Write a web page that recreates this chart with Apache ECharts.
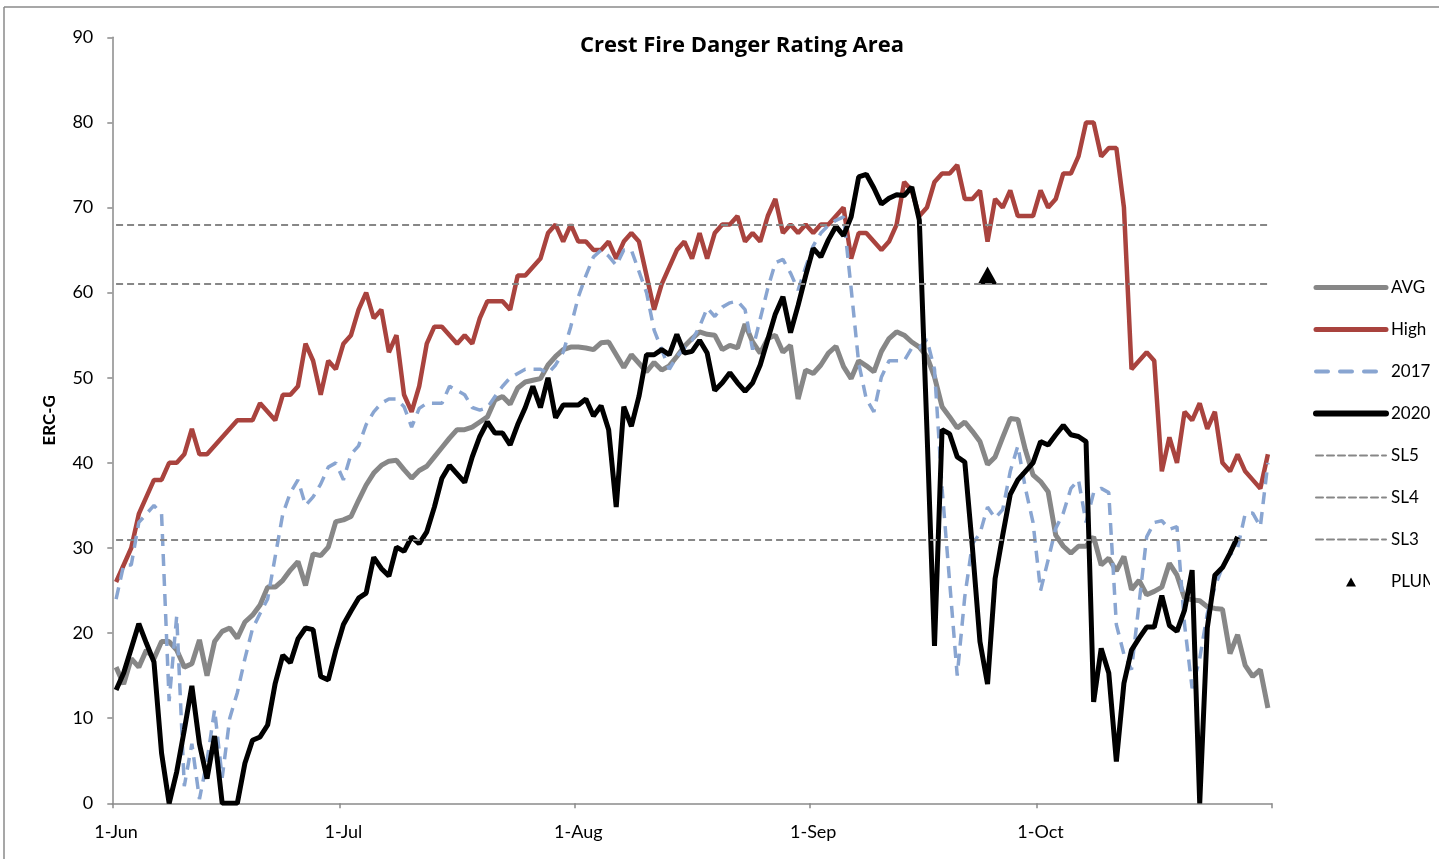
<!DOCTYPE html>
<html><head><meta charset="utf-8">
<script src="https://cdn.jsdelivr.net/npm/echarts@6/dist/echarts.min.js"></script>
<style>html,body{margin:0;padding:0;background:#fff}#chart{width:1439px;height:859px}</style>
</head><body><div id="chart"></div>
<script>
// ---- categories (daily, 1-Jun .. 31-Oct) ----
const monthNames = ['Jun', 'Jul', 'Aug', 'Sep', 'Oct'];
const monthDays = [30, 31, 31, 30, 31];
const categories = [];
monthNames.forEach((m, i) => { for (let d = 1; d <= monthDays[i]; d++) categories.push(d + '-' + m); });

// ---- series values (ERC-G) ----
const avgValues = [16,14,17,16,18,17,19,19,18,16,16.4,19.2,15,19,20.2,20.6,19.4,21.3,22.1,23.3,25.4,25.4,26.2,27.4,28.4,25.6,29.3,29.1,30.1,33.1,
33.3,33.7,35.6,37.4,38.8,39.7,40.2,40.3,39.2,38.2,39.1,39.6,40.7,41.8,42.9,43.9,43.9,44.2,44.8,45.4,47.4,47.8,46.9,48.8,49.5,49.7,49.9,51.5,52.5,53.3,53.6,
53.6,53.5,53.3,54.1,54.2,52.7,51.2,52.7,51.7,50.7,51.8,50.9,51.4,52.5,53.7,54.6,55.4,55.1,55,53.3,53.8,53.5,56.3,54.2,52.9,54.6,55,53,53.8,47.5,50.9,
50.5,51.5,52.9,53.7,51.3,49.9,52,51.4,50.7,53.1,54.6,55.4,55,54.2,53.6,52.5,50.1,46.6,45.4,44.1,44.8,43.7,42.5,39.8,40.7,43,45.2,45.1,41.5,38.6,
37.8,36.6,31.5,30.2,29.4,30.2,30.2,31.3,28,28.8,27.3,29,25.1,26.2,24.5,24.9,25.4,28.2,26.8,24.1,23.9,23.8,23.1,22.9,22.8,17.6,19.8,16.2,14.9,15.7,11.2];

const highValues = [26,28,30,34,36,38,38,40,40,41,44,41,41,42,43,44,45,45,45,47,46,45,48,48,49,54,52,48,52,51,
54,55,58,60,57,58,53,55,48,46,49,54,56,56,55,54,55,54,57,59,59,59,58,62,62,63,64,67,68,66,68,
66,66,65,65,66,64,66,67,66,62,58,61,63,65,66,64,67,64,67,68,68,69,66,67,66,69,71,67,68,67,68,
67,68,68,69,70,64,67,67,66,65,66,68,73,72,69,70,73,74,74,75,71,71,72,66,71,70,72,69,69,69,
72,70,71,74,74,76,80,80,76,77,77,70,51,52,53,52,39,43,40,46,45,47,44,46,40,39,41,39,38,37,41];

const y2017Values = [24,28,28,33,34,35,34,12,22,2,7,0.5,5,11,3,10,13,17,20.5,22.3,24,
29,34,36.5,38,35,36,37.5,39.5,40,38,
41,42,44.5,46,47,47.5,47.5,46.6,44.2,46.4,47,47,47,49,48.5,48,46.5,46.2,46.5,47.8,49,50,50.5,51,51,51,50.5,51.5,53,56,
59.5,62,64.2,65,64.3,63.2,65,65,62.5,60,55.6,53.3,51,52.5,53.5,54.4,56,58.2,57.2,58.3,58.8,59,58,53.3,56.9,60.5,63.5,63.9,62.3,60.3,63,
65.5,67,67.9,68.5,68.9,60.5,51.7,47.5,46,50.1,52,52,52,53.5,53.5,54.5,51,37,26,15,24.3,30.5,31.7,34.8,33.5,34.5,39,42,37,33,
25,28.6,32.3,34.1,37,38,33,36.5,37,36.5,21,17.5,15.7,23.5,31.3,33,33.2,32.2,32.5,21,13.5,17,22.3,25.4,27.8,29.2,30,34,34.1,32.5,40];

const y2020Values = [13.3,15.3,18.2,21.1,18.8,16.6,5.9,0,3.7,8.6,13.8,7,2.9,7.9,0,0,0,4.7,7.4,7.8,9.2,14.1,17.4,16.5,19.3,20.6,20.4,14.9,14.5,18,
21,22.6,24.1,24.7,28.9,27.6,26.7,30.1,29.6,31.3,30.5,31.9,34.8,38.2,39.7,38.7,37.7,40.7,43.1,44.8,43.5,43.5,42.1,44.5,46.5,49,46.5,50,45.3,46.8,46.8,
46.8,47.5,45.5,46.7,43.9,34.8,46.6,44.3,47.8,52.7,52.7,53.3,52.7,55.1,52.9,53.1,54.4,52.9,48.5,49.4,50.6,49.4,48.4,49.4,51.5,54.5,57.5,59.5,55.3,58.5,62,
65.2,64.2,66.2,67.8,66.7,68.9,73.6,73.9,72.3,70.4,71.1,71.5,71.4,72.4,68.5,44,18.5,43.9,43.4,40.7,40.1,30.1,19,14,26.4,31.5,36.3,38,39,40,
42.5,42.1,43.3,44.4,43.3,43.1,42.5,11.9,18.2,15.3,4.9,14.1,18,19.4,20.7,20.7,24.4,20.9,20.2,22.7,27.4,0,20.6,26.8,27.7,29.4,31.3,null,null,null,null];

// staffing levels and PLUM marker
const slNames = ['SL5', 'SL4', 'SL3'];
const slLevels = [68, 61, 31];
const plumPoint = ['24-Sep', 62];

// y-axis ticks
const yMin = 0, yMax = 90, yStep = 10;

const FONT = 'Lato, "Open Sans", sans-serif';
const GRAY = '#878787';
const C_AVG = '#878787', C_HIGH = '#a9433e', C_2017 = '#89a5d1', C_2020 = '#000000';

const isMonthStart = (idx, val) => String(val).split('-')[0] === '1';

function slSeries(name, level) {
  return {
    name, type: 'line', data: [], symbol: 'none',
    lineStyle: { color: GRAY, width: 2, type: [7, 4] },
    itemStyle: { color: GRAY },
    markLine: {
      silent: true, symbol: 'none', label: { show: false },
      lineStyle: { color: GRAY, width: 2, type: [7, 4] },
      data: [[{ coord: [categories[0], level] }, { coord: [categories[categories.length - 1], level] }]]
    }
  };
}

const lineLegend = (name, color, width, type) => ({
  name, itemStyle: { opacity: 0 },
  lineStyle: { color, width, type: type || 'solid', cap: 'round' }
});

const chart = echarts.init(document.getElementById('chart'));
chart.setOption({
  animation: false,
  backgroundColor: '#fff',
  title: {
    text: 'Crest Fire Danger Rating Area',
    left: 575, top: 30,
    textStyle: { fontFamily: '"Open Sans", Lato, sans-serif', fontSize: 22, fontWeight: 'bold', color: '#000' }
  },
  grid: { left: 112.3, right: 167.3, top: 37.3, bottom: 55.7 },
  legend: {
    orient: 'vertical', left: 1308, top: 274,
    itemWidth: 70, itemHeight: 10, itemGap: 25,
    textStyle: { fontFamily: FONT, fontSize: 17, color: '#000' },
    data: [lineLegend('AVG', C_AVG, 5), lineLegend('High', C_HIGH, 5), lineLegend('2017', C_2017, 4, [12, 12]),
           lineLegend('2020', C_2020, 6),
           lineLegend('SL5', GRAY, 2, [7, 4]), lineLegend('SL4', GRAY, 2, [7, 4]), lineLegend('SL3', GRAY, 2, [7, 4]),
           { name: 'PLUM', icon: 'path://M0,0L0.01,0M70,10L69.99,10M30,10L35,1L40,10Z', itemStyle: { color: '#000', opacity: 1 } }]
  },
  xAxis: {
    type: 'category', data: categories, boundaryGap: true,
    axisLine: { lineStyle: { color: '#8a8a8a', width: 1.5 } },
    axisTick: { show: true, inside: false, length: 5, interval: isMonthStart, lineStyle: { color: '#8a8a8a', width: 1.5 } },
    axisLabel: { interval: isMonthStart, margin: 20, fontFamily: FONT, fontSize: 18, color: '#000' },
    splitLine: { show: false }
  },
  yAxis: {
    type: 'value', min: yMin, max: yMax, interval: yStep,
    name: 'ERC-G', nameLocation: 'middle', nameGap: 54, nameRotate: 90,
    nameTextStyle: { fontFamily: FONT, fontSize: 17, fontWeight: 'bold', color: '#000' },
    axisLine: { show: true, lineStyle: { color: '#8a8a8a', width: 1.5 } },
    axisTick: { show: true, inside: false, length: 5, lineStyle: { color: '#8a8a8a', width: 1.5 } },
    axisLabel: { margin: 19, fontFamily: FONT, fontSize: 18, color: '#000' },
    splitLine: { show: false }
  },
  series: [
    { name: 'AVG', type: 'line', data: avgValues, symbol: 'none', lineStyle: { color: C_AVG, width: 5 }, itemStyle: { color: C_AVG } },
    { name: 'High', type: 'line', data: highValues, symbol: 'none', lineStyle: { color: C_HIGH, width: 4.5 }, itemStyle: { color: C_HIGH } },
    { name: '2017', type: 'line', data: y2017Values, symbol: 'none', lineStyle: { color: C_2017, width: 3.5, type: [12, 8] }, itemStyle: { color: C_2017 } },
    { name: '2020', type: 'line', data: y2020Values, symbol: 'none', connectNulls: false, lineStyle: { color: C_2020, width: 5 }, itemStyle: { color: C_2020 } },
    slSeries(slNames[0], slLevels[0]),
    slSeries(slNames[1], slLevels[1]),
    slSeries(slNames[2], slLevels[2]),
    { name: 'PLUM', type: 'scatter', data: [plumPoint], symbol: 'triangle', symbolSize: [20, 18], itemStyle: { color: '#000', opacity: 1 } }
  ],
  graphic: [
    { type: 'line', shape: { x1: 4, y1: 7, x2: 4, y2: 859 }, style: { stroke: '#8a8a8a', lineWidth: 1.5 }, silent: true },
    { type: 'line', shape: { x1: 4, y1: 7, x2: 1439, y2: 7 }, style: { stroke: '#8a8a8a', lineWidth: 1.5 }, silent: true },
    { type: 'rect', shape: { x: 1430, y: 250, width: 9, height: 360 }, style: { fill: '#fff' }, z: 100, silent: true }
  ]
});
</script>
</body></html>
